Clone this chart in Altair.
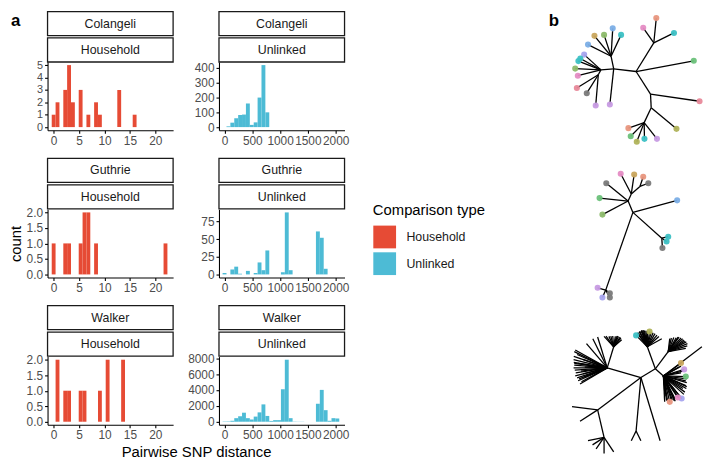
import altair as alt
import pandas as pd

FONT = "Liberation Sans"
HH_COLOR, UL_COLOR = "#E64B35", "#4DBBD5"
TYPES = ["Household", "Unlinked"]

# ---------------- panel a: histogram data (bin centres, counts) ----------------
hh_binwidth = 22 / 29
ul_binwidth = 70

colangeli_hh_dist = [0, 0.76, 2.28, 3.03, 3.79, 5.31, 6.83, 8.34, 9.10, 12.90, 15.93]
colangeli_hh_count = [1, 2, 3, 5, 2, 3, 1, 2, 1, 3, 1]
guthrie_hh_dist = [0, 2.28, 3.03, 5.31, 6.07, 6.83, 8.34, 22.0]
guthrie_hh_count = [1, 1, 1, 1, 2, 2, 1, 1]
walker_hh_dist = [0.76, 2.28, 3.03, 5.31, 6.07, 9.10, 10.62, 13.66]
walker_hh_count = [2, 1, 1, 1, 1, 1, 2, 2]

colangeli_ul_dist = [70, 140, 210, 280, 350, 420, 490, 560, 630, 700, 770]
colangeli_ul_count = [5, 30, 60, 82, 85, 160, 15, 32, 200, 420, 100]
guthrie_ul_dist = [0, 140, 210, 280, 420, 560, 630, 700, 770, 1050, 1120, 1190, 1680, 1750, 1820]
guthrie_ul_count = [2, 7, 11, 1, 5, 2, 17, 6, 34, 3, 88, 6, 61, 52, 8]
walker_ul_dist = [0, 70, 140, 210, 280, 350, 420, 490, 560, 630, 700, 770, 840, 910, 980,
                  1050, 1120, 1190, 1260, 1330, 1400, 1680, 1750, 1820, 1890, 1960, 2030]
walker_ul_count = [40, 50, 120, 450, 690, 1140, 450, 280, 650, 1180, 2190, 730, 100, 200, 200,
                   4100, 7830, 450, 30, 20, 20, 2270, 4020, 1460, 120, 450, 410]

hh_xticks = [0, 5, 10, 15, 20]
ul_xticks = [0, 500, 1000, 1500, 2000]
hh_xdomain = [-1.2, 23.5]
ul_xdomain = [-100, 2160]

PW, PH, SH, GAP, COLGAP = 127, 69, 51, 28.5, 46.4

axis_common = dict(
    domainColor="#000000", domainWidth=1.1, tickColor="#000000", tickWidth=1.1, tickSize=3,
    labelColor="#4D4D4D", labelFont=FONT, labelPadding=2, grid=False,
    labelOverlap=False, labelFlush=False,
    titleFont=FONT, titleFontSize=15, titleFontWeight="normal", titleColor="#000000",
)

legend_def = alt.Legend(title="Comparison type", orient="none", legendX=329, legendY=194,
                        symbolType="square", symbolSize=530, symbolStrokeWidth=0, symbolOpacity=1,
                        titleFont=FONT, titleFontSize=15, titleFontWeight="normal",
                        titleColor="#000000", titlePadding=7, labelFont=FONT,
                        labelFontSize=12.5, labelColor="#1a1a1a", labelOffset=10,
                        rowPadding=3, padding=0)


def hist(dist, count, binw, ctype, xdomain, xticks, ymax, yticks, yfmt, ytitle=None, xtitle=None,
         ylabel_size=12):
    df = pd.DataFrame({"dist": dist, "count": count})
    df["x0"] = df["dist"] - binw / 2
    df["x1"] = df["dist"] + binw / 2
    df["type"] = ctype
    pad = ymax * 0.05
    xaxis_extra = {}
    if xtitle:
        # centre the shared x title under both columns of panel a
        xaxis_extra = dict(titleX=(2 * PW + COLGAP) / 2, titleAlign="center", titlePadding=4)
    return alt.Chart(df).mark_bar(opacity=1).encode(
        x=alt.X("x0:Q", scale=alt.Scale(domain=xdomain, nice=False, zero=False),
                axis=alt.Axis(values=xticks, format="d", labelFontSize=12, **axis_common, **xaxis_extra),
                title=xtitle),
        x2="x1:Q",
        y=alt.Y("count:Q", scale=alt.Scale(domain=[-pad, ymax + pad], nice=False, zero=False),
                axis=alt.Axis(values=yticks, format=yfmt, titlePadding=3, labelFontSize=ylabel_size,
                              **axis_common),
                title=ytitle),
        y2=alt.datum(0),
        color=alt.Color("type:N", scale=alt.Scale(domain=TYPES, range=[HH_COLOR, UL_COLOR]),
                        legend=legend_def),
    ).properties(width=PW, height=PH)


def strip(study, ctype, gap, panel_label=None):
    df = pd.DataFrame({"label": [study, ctype],
                       "top": [gap, gap + 26.7], "bot": [gap + 24.3, gap + SH]})
    df["mid"] = (df["top"] + df["bot"]) / 2
    ys = alt.Scale(domain=[0, gap + SH], reverse=True, nice=False, zero=False)
    rect = alt.Chart(df).mark_rect(fill="white", stroke="#1a1a1a", strokeWidth=1.3).encode(
        y=alt.Y("top:Q", scale=ys, axis=None), y2="bot:Q", x=alt.value(0), x2=alt.value(PW))
    txt = alt.Chart(df).mark_text(font=FONT, fontSize=12.5, color="#1a1a1a").encode(
        y=alt.Y("mid:Q", scale=ys, axis=None), x=alt.value(PW / 2), text="label:N")
    layers = [rect, txt]
    if panel_label:
        lab = alt.Chart(pd.DataFrame({"t": [panel_label]})).mark_text(
            font=FONT, fontSize=17, fontWeight="bold", align="left", baseline="alphabetic",
            x=-37, y=15, color="#000000").encode(text="t:N")
        layers.append(lab)
    return alt.layer(*layers).properties(width=PW, height=gap + SH)


cells = [
    strip("Colangeli", "Household", 0, "a"),
    strip("Colangeli", "Unlinked", 0),
    hist(colangeli_hh_dist, colangeli_hh_count, hh_binwidth, "Household", hh_xdomain, hh_xticks,
         5, [0, 1, 2, 3, 4, 5], "d", ylabel_size=11),
    hist(colangeli_ul_dist, colangeli_ul_count, ul_binwidth, "Unlinked", ul_xdomain, ul_xticks,
         420, [0, 100, 200, 300, 400], "d"),
    strip("Guthrie", "Household", GAP),
    strip("Guthrie", "Unlinked", GAP),
    hist(guthrie_hh_dist, guthrie_hh_count, hh_binwidth, "Household", hh_xdomain, hh_xticks,
         2, [0, 0.5, 1, 1.5, 2], ".1f", ytitle="count"),
    hist(guthrie_ul_dist, guthrie_ul_count, ul_binwidth, "Unlinked", ul_xdomain, ul_xticks,
         88, [0, 25, 50, 75], "d"),
    strip("Walker", "Household", GAP),
    strip("Walker", "Unlinked", GAP),
    hist(walker_hh_dist, walker_hh_count, hh_binwidth, "Household", hh_xdomain, hh_xticks,
         2, [0, 0.5, 1, 1.5, 2], ".1f", xtitle="Pairwise SNP distance"),
    hist(walker_ul_dist, walker_ul_count, ul_binwidth, "Unlinked", ul_xdomain, ul_xticks,
         7830, [0, 2000, 4000, 6000, 8000], "d"),
]

panel_a = alt.concat(*cells, columns=2, spacing={"row": 0, "column": COLGAP}, bounds="flush")

# ---------------- panel b: three unrooted trees (node layout) ----------------
PINK, SALMON, TEAL, GREEN = "#E58CC4", "#E8967E", "#3CC0C4", "#6CC17A"
OLIVE, TAN, BLUE, PURPLE = "#B0B35A", "#C9A65E", "#7BAEE6", "#C79BE3"
LAVENDER, GRAY, PINKRED, GREENOLIVE = "#A7A4EE", "#7A7A7A", "#E8899A", "#8DBB6B"

# tree 1
t1_node = ["C0", "U", "a1", "a2", "a3", "a4", "L1", "a5", "L2", "a6", "L3", "a7", "a8", "a9", "a10", "a11",
           "A", "a12", "B", "a13", "a14", "a15", "a16", "a17", "D", "a18", "a19", "a20", "a21", "a22",
           "E", "a23", "a24", "a25"]
t1_x = [643.3, 661.7, 650.7, 664.3, 682.7, 703.3, 658.3, 709.3, 659.0, 685.3, 651.7, 635.3, 637.7, 644.0,
        652.0, 665.0, 620.0, 616.0, 617.3, 600.0, 610.0, 619.0, 627.7, 593.3, 606.7, 589.3, 583.3, 585.3,
        580.0, 582.7, 604.0, 581.7, 592.0, 601.3]
t1_y = [61.7, 32.3, 16.7, 6.7, 22.0, 50.7, 85.0, 92.3, 99.0, 120.7, 114.3, 120.0, 128.3, 134.0, 131.0,
        131.0, 59.0, 95.7, 46.0, 25.0, 24.0, 17.3, 24.0, 34.0, 60.0, 44.3, 51.0, 48.3, 58.7, 66.0, 65.0,
        78.7, 84.0, 96.7]
t1_parent = [None, "C0", "U", "U", "U", "C0", "C0", "L1", "L1", "L2", "L2", "L3", "L3", "L3", "L3", "L3",
             "C0", "A", "A", "B", "B", "B", "B", "B", "A", "D", "D", "D", "D", "D", "D", "E", "E", "E"]
t1_col = [None, None, PINK, SALMON, TEAL, GREEN, None, PINKRED, None, OLIVE, None, SALMON, GREEN, OLIVE,
          TEAL, PURPLE, None, PURPLE, None, TAN, GREENOLIVE, BLUE, TEAL, BLUE, None, LAVENDER, TEAL, TEAL,
          GREENOLIVE, PINK, None, PINKRED, GRAY, PURPLE]

# tree 2
t2_node = ["H", "b1", "M", "b2", "b3", "b4", "N", "b5", "b6", "b7", "b8", "P", "b9", "b10", "b11", "Q",
           "b12", "b13", "R", "b14", "b15"]
t2_x = [640.0, 686.0, 670.0, 676.7, 675.0, 670.7, 611.7, 603.3, 608.3, 616.0, 616.0, 635.0, 605.3, 608.3,
        612.3, 638.3, 627.3, 641.3, 647.3, 650.7, 656.0]
t2_y = [206.7, 194.3, 233.3, 231.7, 236.7, 243.3, 286.7, 284.3, 294.3, 290.0, 294.3, 195.0, 192.0, 209.0,
        176.7, 187.7, 167.0, 167.7, 180.0, 170.0, 176.7]
t2_parent = [None, "H", "H", "M", "M", "M", "H", "N", "N", "N", "N", "H", "P", "P", "P", "P", "Q", "Q",
             "Q", "R", "R"]
t2_col = [None, BLUE, None, TEAL, TEAL, GRAY, None, PURPLE, LAVENDER, GRAY, GRAY, None, GREEN, GREENOLIVE,
          GRAY, None, PINK, TAN, None, SALMON, GRAY]

# tree 3 (large tree with dense clusters)
t3_node = ["T0", "T1", "M1", "M2", "M3", "L1", "L2", "V1", "LL1", "LL2"]
t3_x = [648.3, 663.3, 655.0, 671.7, 676.7, 613.3, 620.0, 643.3, 603.3, 610.0]
t3_y = [376.7, 367.7, 345.0, 375.0, 350.0, 366.7, 345.0, 431.7, 410.0, 438.3]
t3_parent = [None, "T0", "T1", "T1", "T1", "T0", "L1", "T0", "T0", "LL1"]
t3_col = [None] * 10

m1_tip_x = [643.3, 645.0, 646.5, 648.5, 650.0, 652.0, 653.5, 657.3, 661.0, 665.0, 670.0,
            644.5, 647.0, 649.0, 651.0, 655.0, 659.0, 663.0, 667.0]
m1_tip_y = [333.3, 330.5, 329.5, 328.5, 328.3, 328.3, 328.5, 329.3, 330.5, 333.0, 336.7,
            331.0, 329.0, 328.0, 328.0, 328.7, 329.7, 331.5, 334.5]
m1_tip_col = [TEAL, None, None, None, None, None, None, OLIVE] + [None] * 11

m2_tip_x = [711.7, 690.0, 693.3, 695.0, 695.0, 694.0, 690.7, 686.7, 678.3, 673.0, 684.0, 695.0, 692.0,
            688.0, 690.0, 681.0, 676.0,
            696.0, 696.0, 695.5, 693.0, 689.0, 684.0, 680.0, 675.0, 673.5, 674.0, 690.0, 692.0, 683.0,
            688.0, 696.0]
m2_tip_y = [345.0, 361.7, 368.3, 375.7, 385.0, 391.7, 398.3, 397.3, 401.7, 401.7, 401.0, 380.0, 388.0,
            366.0, 372.0, 399.5, 400.5,
            378.0, 382.0, 388.0, 394.0, 396.0, 399.0, 400.0, 400.5, 396.0, 390.0, 365.0, 370.0, 400.5,
            398.0, 386.0]
m2_tip_col = [None, TAN, PURPLE, GREEN, None, None, LAVENDER, PINK, SALMON] + [None] * 23

m3_tip_x = [678.3, 685.0, 691.7, 696.7, 695.0, 688.0, 694.0, 680.0, 682.5, 687.0, 690.0, 693.0, 695.5, 696.5]
m3_tip_y = [336.7, 335.7, 336.7, 341.7, 346.7, 335.0, 339.0, 336.0, 335.5, 335.0, 336.0, 338.0, 340.0, 344.0]

l1_tip_x = [580.0, 578.3, 578.3, 580.0, 585.0, 591.7, 598.3, 603.3, 583.0, 586.0, 582.0, 588.0, 579.0, 584.0,
            579.0, 578.5, 578.5, 579.0, 579.5, 580.5, 582.0, 583.0, 586.5, 589.0, 590.0, 588.0]
l1_tip_y = [348.3, 358.3, 366.7, 375.0, 383.3, 341.7, 336.7, 335.0, 362.0, 370.0, 353.0, 373.0, 362.0, 378.0,
            350.0, 355.0, 361.0, 364.0, 369.0, 372.0, 377.0, 380.0, 381.0, 376.0, 366.0, 358.0]

l2_tip_x = [610.0, 615.0, 621.7, 626.7, 628.3, 624.0, 612.0, 617.0, 619.0, 623.0, 625.0, 627.5]
l2_tip_y = [334.3, 334.3, 334.3, 335.0, 337.7, 334.0, 334.0, 334.0, 334.0, 334.3, 334.5, 336.0]

low_tip_parent = ["V1", "V1", "T0", "LL1", "LL1", "LL2", "LL2", "LL2", "LL2", "LL2"]
low_tip_x = [638.3, 648.3, 668.3, 576.7, 585.0, 593.3, 601.7, 610.0, 620.0, 598.0]
low_tip_y = [441.7, 441.7, 441.7, 406.7, 421.7, 441.7, 450.0, 455.0, 453.3, 446.0]

t3_tip_parent = (["M1"] * len(m1_tip_x) + ["M2"] * len(m2_tip_x) + ["M3"] * len(m3_tip_x)
                 + ["L1"] * len(l1_tip_x) + ["L2"] * len(l2_tip_x) + low_tip_parent)
t3_tip_x = m1_tip_x + m2_tip_x + m3_tip_x + l1_tip_x + l2_tip_x + low_tip_x
t3_tip_y = m1_tip_y + m2_tip_y + m3_tip_y + l1_tip_y + l2_tip_y + low_tip_y
t3_tip_col = (m1_tip_col + m2_tip_col + [None] * len(m3_tip_x) + [None] * len(l1_tip_x)
              + [None] * len(l2_tip_x) + [None] * len(low_tip_x))


def tree_frames(nodes, xs, ys, parents, cols, tree_id):
    nd = pd.DataFrame({"node": nodes, "x": xs, "y": ys, "parent": parents, "col": cols})
    pos = nd.set_index("node")[["x", "y"]]
    ed = nd[nd["parent"].notna()].copy()
    ed["px"] = ed["parent"].map(pos["x"])
    ed["py"] = ed["parent"].map(pos["y"])
    ed["tree"] = tree_id
    tips = nd[nd["col"].notna()].copy()
    tips["tree"] = tree_id
    return ed, tips


t3_all_node = t3_node + [f"c{i}" for i in range(len(t3_tip_x))]
e1, p1 = tree_frames(t1_node, t1_x, t1_y, t1_parent, t1_col, 1)
e2, p2 = tree_frames(t2_node, t2_x, t2_y, t2_parent, t2_col, 2)
e3, p3 = tree_frames(t3_all_node, t3_x + t3_tip_x, t3_y + t3_tip_y, t3_parent + t3_tip_parent,
                     t3_col + t3_tip_col, 3)
edges = pd.concat([e1, e2, e3], ignore_index=True)
tips = pd.concat([p1, p2, p3], ignore_index=True)

TW, TH = 142, 454
xs = alt.Scale(domain=[570, 716], nice=False, zero=False)
ys = alt.Scale(domain=[0, 462], nice=False, zero=False, reverse=True)
edge_layer = alt.Chart(edges).mark_rule(color="#000000", strokeWidth=1.3).encode(
    x=alt.X("px:Q", scale=xs, axis=None), y=alt.Y("py:Q", scale=ys, axis=None),
    x2="x:Q", y2="y:Q")
tip_layer = alt.Chart(tips).mark_circle(size=38, opacity=0.95).encode(
    x=alt.X("x:Q", scale=xs, axis=None), y=alt.Y("y:Q", scale=ys, axis=None),
    fill=alt.Fill("col:N", scale=None))
b_label = alt.Chart(pd.DataFrame({"t": ["b"]})).mark_text(
    font=FONT, fontSize=17, fontWeight="bold", align="left", baseline="alphabetic",
    x=-17, y=15, color="#000000").encode(text="t:N")
panel_b = alt.layer(edge_layer, tip_layer, b_label).properties(width=TW, height=TH)

chart = alt.hconcat(panel_a, panel_b, spacing=202).properties(
    padding=0, background="white"
).configure(font=FONT).configure_view(stroke=None)

chart.save("out.html", embed_options={"renderer": "svg", "actions": False})
